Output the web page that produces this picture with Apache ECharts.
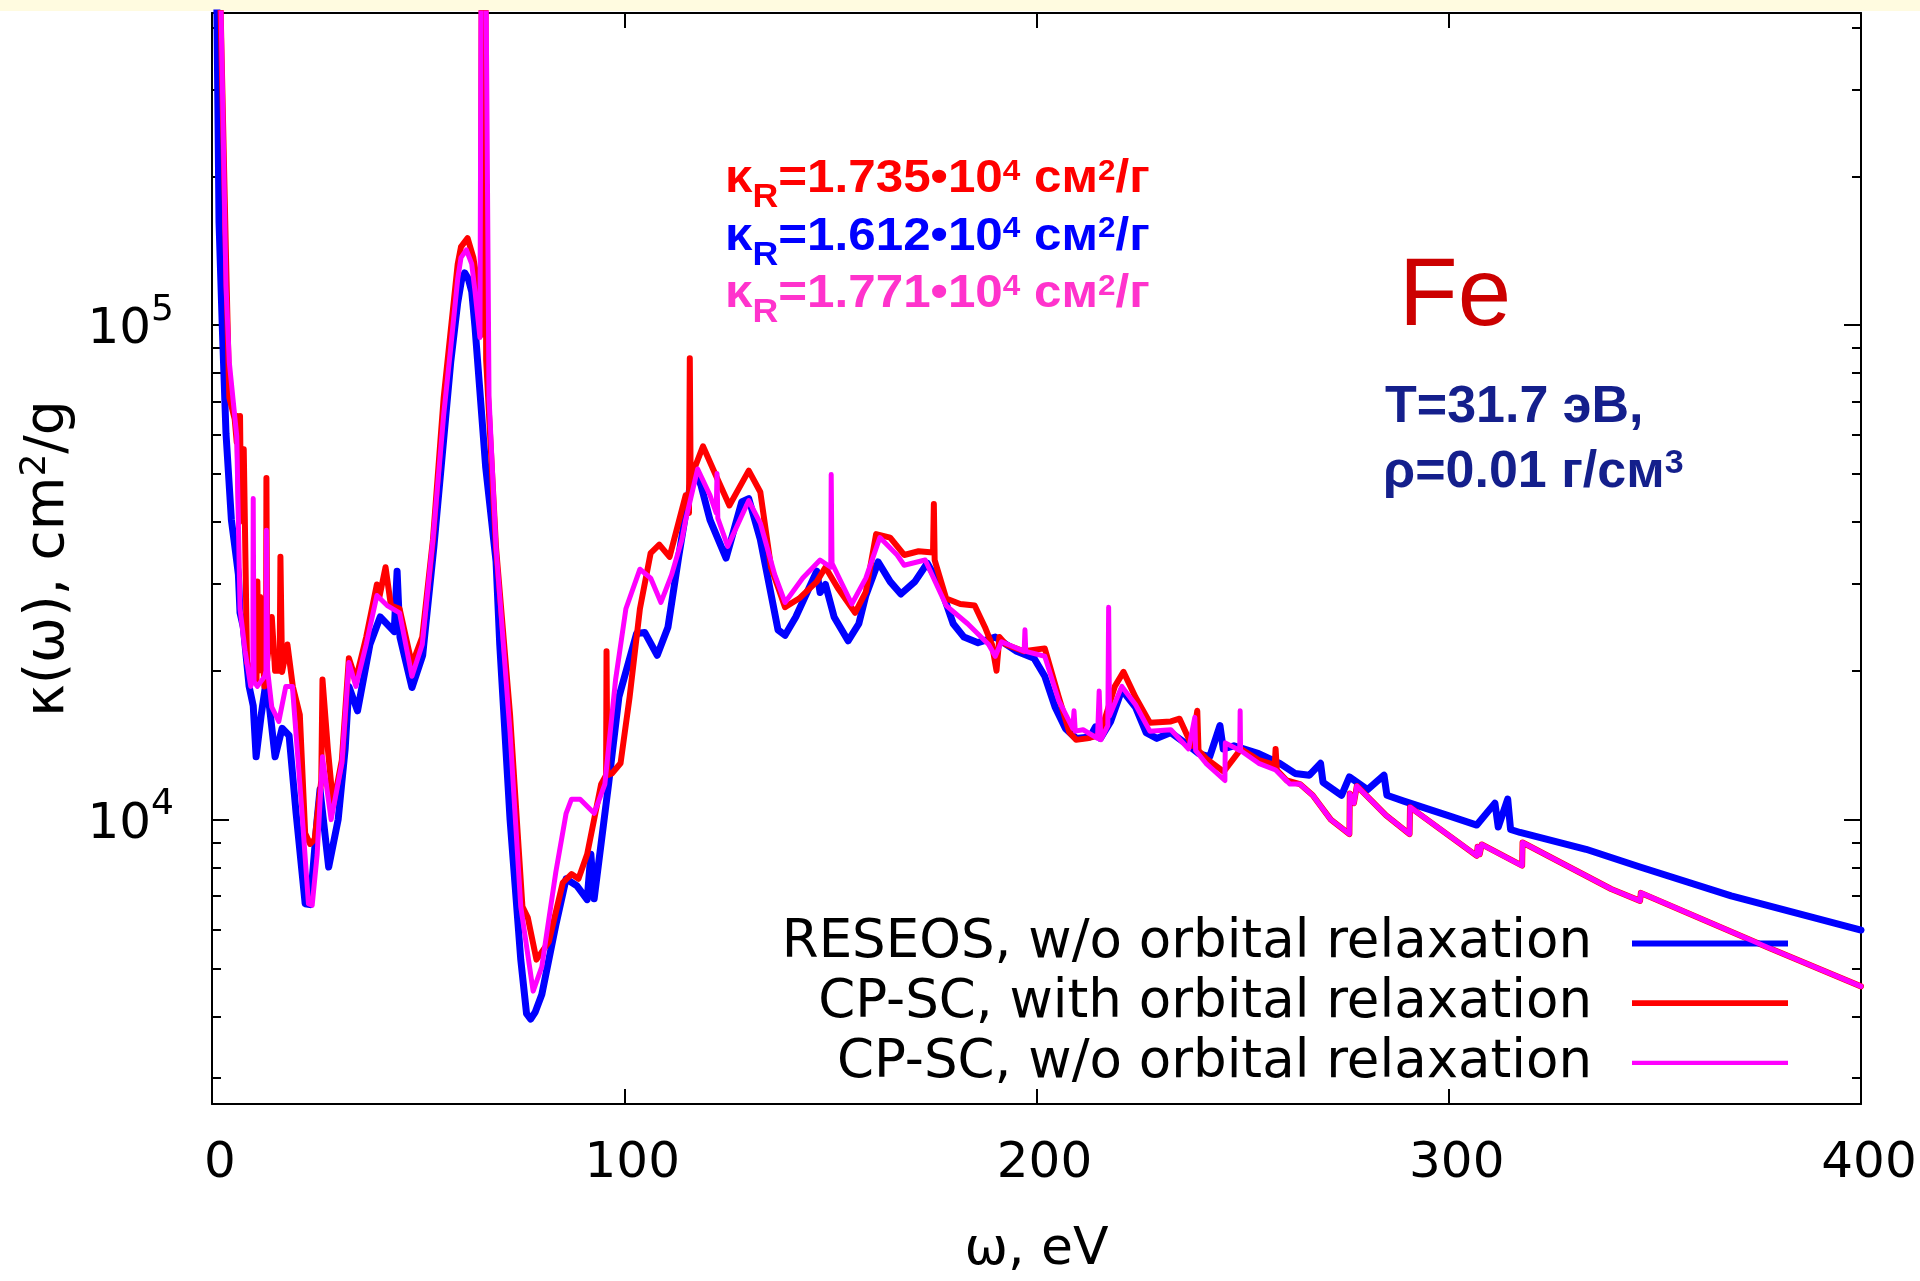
<!DOCTYPE html>
<html><head><meta charset="utf-8">
<script src="https://cdn.jsdelivr.net/npm/echarts@6/dist/echarts.min.js"></script>
<style>html,body{margin:0;padding:0;background:#fff}#c{width:1920px;height:1281px}</style>
</head><body><div id="c"></div>
<script>
// ---- axis ranges / ticks ----
const X_MIN = 0, X_MAX = 400, X_STEP = 100;
const Y_MIN = 2660, Y_MAX = 428000;
const Y_MAJOR_TICKS = [10000, 100000];
const Y_MINOR_TICKS = [3000,4000,5000,6000,7000,8000,9000,20000,30000,40000,50000,60000,70000,80000,90000,200000,300000,400000];

// ---- series names ----
const SERIES_NAMES = ['RESEOS, w/o orbital relaxation','CP-SC, with orbital relaxation','CP-SC, w/o orbital relaxation'];
const KAPPA_R = ['1.735','1.612','1.771'];

// ---- data: [omega eV, kappa cm2/g] ----
const reseos = [[0.3,1000000],[1.2,430000],[1.7,162000],[2.5,99000],[3.4,60300],[4.7,40400],[6.0,33300],[6.4,31300],[6.8,26200],[7.6,24500],[9.0,18600],[10.0,17000],[10.7,13400],[11.9,16200],[13.2,19200],[15.3,13400],[17.0,15300],[18.7,14800],[20.4,10300],[22.6,6760],[23.8,6730],[25.5,10000],[26.2,11500],[28.3,8020],[30.6,10000],[32.3,13900],[33.2,18600],[35.3,16600],[38.3,22600],[40.8,25700],[44.2,24000],[44.9,31800],[45.6,23400],[48.5,18500],[51.1,21500],[53.8,35500],[57.9,84100],[59.6,111000],[60.5,123000],[61.3,127600],[62.2,124000],[63.0,117000],[63.8,99100],[66.4,51500],[68.9,33300],[69.8,22600],[72.3,10000],[74.9,5210],[76.3,4050],[77.3,3950],[78.4,4080],[80.0,4430],[83.4,6120],[85.9,7590],[88.5,7350],[91.0,6890],[91.9,8510],[92.7,6920],[96.2,11800],[98.7,17700],[103.0,23800],[105.0,23900],[108.0,21500],[110.6,24500],[113.2,34000],[116.2,48500],[117.4,49900],[118.6,47500],[120.8,40400],[124.7,33800],[128.5,43900],[130.2,44600],[133.0,36900],[137.3,24200],[139.0,23600],[141.6,25700],[146.7,31800],[147.5,28800],[148.8,29900],[150.9,25700],[154.3,23000],[156.9,24900],[158.6,28400],[161.6,33200],[164.5,30300],[167.1,28600],[170.5,30300],[173.5,33000],[176.5,29900],[179.8,24900],[182.4,23400],[185.8,22800],[190.0,23400],[195.2,21900],[199.4,21200],[202.0,19500],[204.5,16900],[207.0,15300],[209.6,14600],[213.0,14700],[214.3,15400],[215.5,14600],[218.0,15800],[220.7,18300],[224.0,16900],[226.6,15000],[229.2,14600],[232.6,15000],[236.0,14300],[239.4,13600],[242.0,13400],[244.5,15500],[245.3,13900],[247.9,14100],[253.9,13600],[259.0,13000],[262.7,12400],[266.2,12300],[268.9,13000],[269.5,11900],[274.0,11200],[275.9,12200],[280.3,11500],[284.3,12300],[285.0,11200],[289.1,10900],[299.7,10200],[306.8,9750],[311.2,10800],[312.0,9660],[314.3,11000],[315.0,9550],[317.3,9420],[333.3,8710],[346.4,8020],[368.5,7010],[400,5980]];

const cpscWith = [[1.5,1000000],[2.1,430000],[3.4,137000],[4.2,71400],[5.5,64600],[6.0,58000],[6.1,65500],[6.6,40000],[6.8,65500],[7.0,45000],[7.7,56100],[8.5,20800],[10.8,19000],[11.0,30300],[11.3,20000],[11.7,28200],[12.7,18600],[13.1,20000],[13.2,49100],[13.4,21000],[14.5,25700],[15.3,20000],[16.4,20000],[16.6,34000],[17.0,19900],[18.3,22600],[19.6,18600],[21.3,16300],[22.6,9380],[23.8,8930],[24.9,9120],[26.5,12000],[26.8,19200],[28.1,13900],[29.4,10700],[31.5,13200],[33.2,21200],[34.9,19200],[37.4,23400],[40.0,29900],[40.6,28200],[42.1,32400],[43.4,27100],[45.5,26700],[48.5,20600],[51.0,23400],[53.6,36900],[56.2,71400],[59.6,133000],[60.4,144000],[62.0,150000],[63.4,137000],[64.2,124000],[65.2,95500],[65.5,1000000],[66.3,1000000],[66.5,85100],[68.9,35500],[72.3,16300],[75.3,6670],[76.6,6340],[78.7,5210],[81.7,5660],[85.1,7460],[87.2,7760],[88.9,7590],[91.0,8510],[94.4,11800],[95.6,12300],[95.7,21900],[95.9,12300],[97.0,12400],[99.1,13000],[101.3,17700],[103.8,26700],[106.4,34600],[108.5,36000],[111.0,34000],[114.9,45300],[115.7,41700],[115.9,85700],[116.1,49000],[119.1,56900],[122.5,49100],[125.5,43200],[130.2,50800],[133.0,46000],[135.6,32400],[137.7,28900],[139.0,26900],[142.4,28000],[146.7,30300],[148.8,32400],[151.8,29400],[156.0,26200],[158.6,28900],[161.1,37800],[164.5,37200],[167.9,34300],[171.4,34900],[174.9,34700],[175.1,43500],[175.3,33500],[178.1,28000],[181.5,27300],[185.0,27100],[187.5,24500],[189.2,22600],[190.3,20000],[191.0,23400],[192.6,22600],[196.9,21900],[202.0,22200],[205.4,17700],[208.0,15000],[209.6,14500],[212.3,14600],[215.2,14800],[216.4,15800],[219.0,18600],[221.1,19900],[224.0,17700],[227.5,15700],[232.6,15800],[234.7,16000],[237.7,14100],[239.0,16600],[239.3,13800],[241.1,13300],[245.4,12500],[249.6,13900],[253.9,13200],[257.8,12900],[258.0,13900],[258.3,12600],[260.7,12000],[263.9,11800],[267.0,11200],[271.4,10000],[275.9,9350],[276.0,11300],[277.0,10800],[277.7,11700],[284.8,10200],[290.5,9350],[290.6,10600],[306.8,8450],[307.0,8810],[307.5,8510],[308.0,8910],[317.8,8070],[317.9,8990],[339.4,7240],[346.4,6850],[346.6,7110],[377.3,5520],[400,4600]];

const cpscWo = [[1.6,1000000],[2.2,430000],[3.4,120000],[4.2,84100],[6.0,59700],[6.8,26700],[8.0,22000],[9.4,18600],[9.9,20000],[10.0,44600],[10.2,19000],[11.0,18600],[12.8,19500],[13.1,20000],[13.2,38500],[13.5,20000],[14.5,16900],[16.2,15800],[17.9,18600],[19.5,18600],[21.7,10700],[23.4,6760],[24.3,6710],[25.5,8490],[26.8,13400],[28.9,10000],[31.5,13000],[33.2,20800],[34.9,18600],[37.4,22600],[40.0,28400],[42.5,27100],[45.5,26200],[48.5,19500],[51.0,22600],[53.6,36900],[56.2,65900],[57.9,89900],[59.6,124000],[60.4,137000],[61.7,142000],[63.0,133000],[63.8,117000],[65.0,94400],[65.4,1000000],[66.2,1000000],[67.2,71400],[68.9,35500],[72.3,15000],[74.9,6670],[77.9,4500],[80.0,5040],[83.4,7830],[85.9,10300],[87.2,11000],[89.3,11000],[92.7,10300],[95.3,11800],[97.9,19200],[100.4,26700],[103.8,32100],[106.4,30800],[108.9,27500],[111.5,31300],[114.0,36900],[114.9,40400],[117.8,51200],[120.8,45300],[122.3,41700],[122.5,50100],[122.7,40700],[125.1,35700],[130.2,44200],[133.0,39800],[135.6,33300],[136.5,31300],[139.0,27500],[143.3,30800],[147.5,33500],[150.1,32400],[150.2,49900],[150.4,33000],[155.2,27300],[158.6,30800],[162.0,37200],[166.2,34300],[167.9,32700],[173.0,33500],[178.1,27100],[183.3,24900],[188.4,22600],[190.0,21400],[191.5,22900],[197.0,21900],[197.2,24200],[197.4,21900],[202.0,21400],[205.4,17400],[208.8,15300],[209.1,16600],[209.4,15100],[211.3,15200],[214.8,14600],[215.2,18200],[215.6,14500],[217.3,15500],[217.5,26900],[217.7,16200],[220.7,18600],[224.0,17100],[227.5,15100],[232.6,15200],[236.9,13900],[238.4,16100],[238.6,13800],[241.1,13000],[245.7,12000],[245.8,14300],[247.9,14000],[249.3,13800],[249.4,16600],[249.5,13800],[253.9,13000],[258.0,12600],[261.5,11800],[263.9,11800],[267.0,11200],[271.4,10000],[275.9,9350],[276.0,11300],[277.0,10800],[277.7,11700],[284.8,10200],[290.5,9350],[290.6,10600],[306.8,8450],[307.0,8810],[307.5,8510],[308.0,8910],[317.8,8070],[317.9,8990],[339.4,7240],[346.4,6850],[346.6,7110],[377.3,5520],[400,4600]];

// ---- styles ----
const COLORS = ['#0000ff','#ff0000','#ff00ff'];
const WIDTHS = [7, 6, 5];
const LEGEND_WIDTHS = [6, 5.7, 4.3];
const KAPPA_COLORS = ['#ff0000','#0000ff','#ff33cc'];
const NAVY = '#141f8c';
const DJ = 'DejaVu Sans', LS = 'Liberation Sans';

const LMIN = Math.log10(Y_MIN), LMAX = Math.log10(Y_MAX);
const axisLineStyle = {color:'#000', width:2};

function tickAxis(position, values, len) {
  return {type:'value', min:LMIN, max:LMAX, position:position,
    axisLine:{show:false}, splitLine:{show:false}, axisLabel:{show:false},
    axisTick:{show:true, inside:true, length:len, lineStyle:axisLineStyle, customValues: values.map(v=>Math.log10(v))}};
}

const chart = echarts.init(document.getElementById('c'), null, {renderer:'canvas'});

function kappaText(i, y) {
  const c = KAPPA_COLORS[i];
  const base = {fontFamily:LS, fontWeight:'bold', fill:c, verticalAlign:'middle'};
  return {type:'text', x:725, y:y, z:100, scaleX:1.05, style:{
    text:'{k|κ}{r|R}{k|=' + KAPPA_R[i] + '•10}{s|4}{k| см}{s|2}{k|/г}',
    fontFamily:LS, fontWeight:'bold', fontSize:47, fill:c,
    align:'left', verticalAlign:'middle', textAlign:'left', textVerticalAlign:'middle',
    rich:{
      k:Object.assign({fontSize:47}, base),
      r:Object.assign({fontSize:34, padding:[37,0,0,0]}, base),
      s:Object.assign({fontSize:30, padding:[0,0,16,0]}, base)
    }}};
}

const option = {
  animation:false,
  backgroundColor:'#ffffff',
  grid:{left:212, right:59, top:13, bottom:176, containLabel:false},
  xAxis:[
    {type:'value', min:X_MIN, max:X_MAX, interval:X_STEP, position:'bottom',
     axisLine:{show:true, onZero:false, lineStyle:axisLineStyle},
     axisTick:{show:true, inside:true, length:15, lineStyle:axisLineStyle},
     axisLabel:{fontSize:50, fontFamily:DJ, color:'#000', margin:35, padding:[0,0,0,16]},
     splitLine:{show:false},
     name:'ω, eV', nameLocation:'middle', nameGap:120,
     nameTextStyle:{fontSize:52, fontFamily:DJ, color:'#000'}},
    {type:'value', min:X_MIN, max:X_MAX, interval:X_STEP, position:'top',
     axisLine:{show:true, onZero:false, lineStyle:axisLineStyle},
     axisTick:{show:true, inside:true, length:15, lineStyle:axisLineStyle},
     axisLabel:{show:false}, splitLine:{show:false}}
  ],
  yAxis:[
    {type:'log', logBase:10, min:Y_MIN, max:Y_MAX, position:'left',
     axisLine:{show:true, onZero:false, lineStyle:axisLineStyle},
     axisTick:{show:false}, minorTick:{show:false}, splitLine:{show:false},
     axisLabel:{margin:38, color:'#000',
       formatter:function(v){ const e=Math.round(Math.log10(v)); if (Math.abs(Math.pow(10,e)-v) > 1e-6*v) return ''; return '{b|10}{s|'+e+'}'; },
       rich:{b:{fontSize:50, fontFamily:DJ, color:'#000', padding:[10,0,0,0]},
             s:{fontSize:36, fontFamily:DJ, color:'#000', padding:[0,0,30,0]}}},
     name:'κ(ω), cm{s|2}/g', nameLocation:'middle', nameRotate:90, nameGap:130,
     nameTextStyle:{fontSize:55, fontFamily:DJ, color:'#000',
       rich:{s:{fontSize:36, fontFamily:DJ, color:'#000', padding:[0,0,26,0]}}}},
    {type:'log', logBase:10, min:Y_MIN, max:Y_MAX, position:'right',
     axisLine:{show:true, onZero:false, lineStyle:axisLineStyle},
     axisTick:{show:false}, minorTick:{show:false}, splitLine:{show:false}, axisLabel:{show:false}},
    tickAxis('left', Y_MAJOR_TICKS, 17),
    tickAxis('left', Y_MINOR_TICKS, 9),
    tickAxis('right', Y_MAJOR_TICKS, 17),
    tickAxis('right', Y_MINOR_TICKS, 9)
  ],
  legend:{orient:'vertical', align:'right', right:132, top:917, padding:0,
    itemWidth:156, itemHeight:14, itemGap:6.7, selectedMode:false,
    textStyle:{fontSize:53, fontFamily:DJ, color:'#000', lineHeight:52, padding:[0,35,0,0]},
    data:SERIES_NAMES.map((n,i)=>({name:n, icon:'path://M0,0H156V'+LEGEND_WIDTHS[i]+'H0Z', itemStyle:{color:COLORS[i]}}))},
  series:[reseos, cpscWith, cpscWo].map((d,i)=>({
    name:SERIES_NAMES[i], type:'line', xAxisIndex:0, yAxisIndex:0, data:d,
    symbol:'none', showSymbol:false, clip:true, silent:true, z:2+i,
    lineStyle:{color:COLORS[i], width:WIDTHS[i], join:'round', cap:'round'},
    itemStyle:{color:COLORS[i]}
  })),
  graphic:[
    {type:'rect', z:-10, shape:{x:0, y:0, width:1920, height:11}, style:{fill:'#fffbe0'}},
    kappaText(0, 179.5), kappaText(1, 237), kappaText(2, 294.5),
    {type:'text', x:1399, y:298.5, z:100, style:{text:'Fe', fontFamily:LS, fontSize:96, fill:'#cc0000', align:'left', verticalAlign:'middle', textAlign:'left', textVerticalAlign:'middle'}},
    {type:'text', x:1385, y:407.6, z:100, style:{text:'T=31.7 эВ,', fontFamily:LS, fontWeight:'bold', fontSize:52, fill:NAVY, align:'left', verticalAlign:'middle', textAlign:'left', textVerticalAlign:'middle'}},
    {type:'text', x:1383, y:472.6, z:100, style:{text:'{m|ρ=0.01 г/см}{s|3}', fontFamily:LS, fontWeight:'bold', fontSize:52, fill:NAVY, align:'left', verticalAlign:'middle', textAlign:'left', textVerticalAlign:'middle',
      rich:{m:{fontFamily:LS, fontWeight:'bold', fontSize:52, fill:NAVY, verticalAlign:'middle'},
            s:{fontFamily:LS, fontWeight:'bold', fontSize:34, fill:NAVY, verticalAlign:'middle', padding:[0,0,18,0]}}}}
  ]
};
chart.setOption(option);
</script>
</body></html>
